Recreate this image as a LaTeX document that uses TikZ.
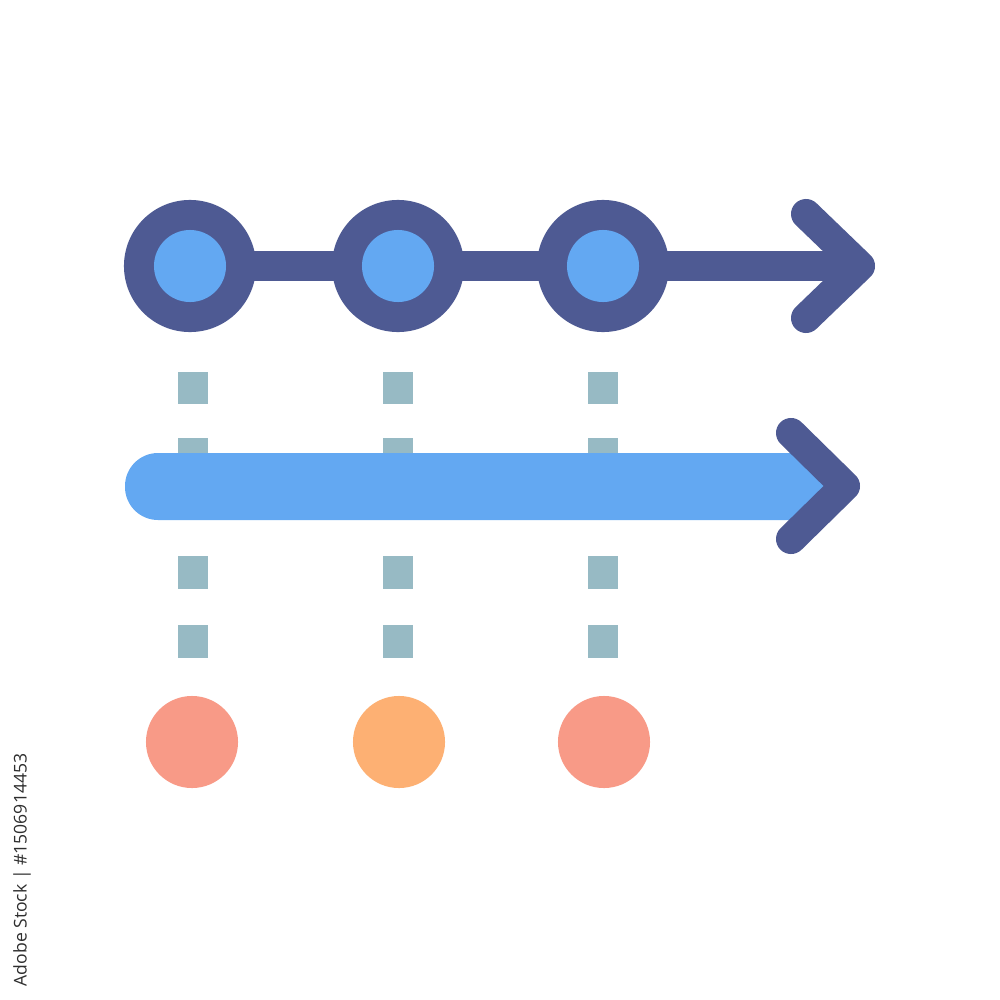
\documentclass[tikz,border=0pt]{standalone}
\usepackage{fontspec}
\setmainfont{Open Sans}
\definecolor{navy}{HTML}{4E5A93}
\definecolor{skyb}{HTML}{63A8F2}
\definecolor{dashc}{HTML}{97BAC4}
\definecolor{salmon}{HTML}{F89A87}
\definecolor{orangec}{HTML}{FDB073}
\definecolor{txtc}{HTML}{2E2E2E}
\begin{document}
\begin{tikzpicture}[x=0.01cm,y=-0.01cm,
  ring/.style={circle,fill=navy,minimum size=1.32cm,inner sep=0},
  core/.style={circle,fill=skyb,minimum size=0.72cm,inner sep=0},
  dot/.style={circle,minimum size=0.92cm,inner sep=0},
  dashbox/.style={fill=dashc},
  chevron/.style={draw=navy,line width=0.3cm,line cap=round,line join=round}]
\useasboundingbox[fill=white] (0,0) rectangle (1000,1000);
% dashed guides
\foreach \x in {193,398,603}{
  \foreach \ya/\yb in {372/404,438/470,556/589,625/658}{
    \fill[dashbox] (\x-15,\ya) rectangle (\x+15,\yb);
  }
}
% top timeline
\coordinate (tend) at (850,266);
\node[ring] (r1) at (190,266) {};
\node[ring] (r2) at (398,266) {};
\node[ring] (r3) at (603,266) {};
\draw[navy,line width=0.3cm] (r1.center) -- (tend);
\node[core] (c1) at (190,266) {};
\node[core] (c2) at (398,266) {};
\node[core] (c3) at (603,266) {};
\coordinate (ta) at (806,214);
\coordinate (tt) at (860,266);
\coordinate (tb) at (806,318);
\draw[chevron] (ta) -- (tt) -- (tb);
% middle bar
\fill[skyb,rounded corners=0.33cm] (125,453) rectangle (830,520);
\coordinate (ma) at (791,433);
\coordinate (mt) at (845,486);
\coordinate (mb) at (791,539);
\draw[chevron] (ma) -- (mt) -- (mb);
% bottom dots
\node[dot,fill=salmon] (d1) at (192,742) {};
\node[dot,fill=orangec] (d2) at (399,742) {};
\node[dot,fill=salmon] (d3) at (604,742) {};
% stock id text
\node[rotate=90,text=txtc,font=\fontsize{5}{6}\selectfont,inner sep=0] (id) at (22,870) {Adobe Stock | \#1506914453};
\end{tikzpicture}
\end{document}
